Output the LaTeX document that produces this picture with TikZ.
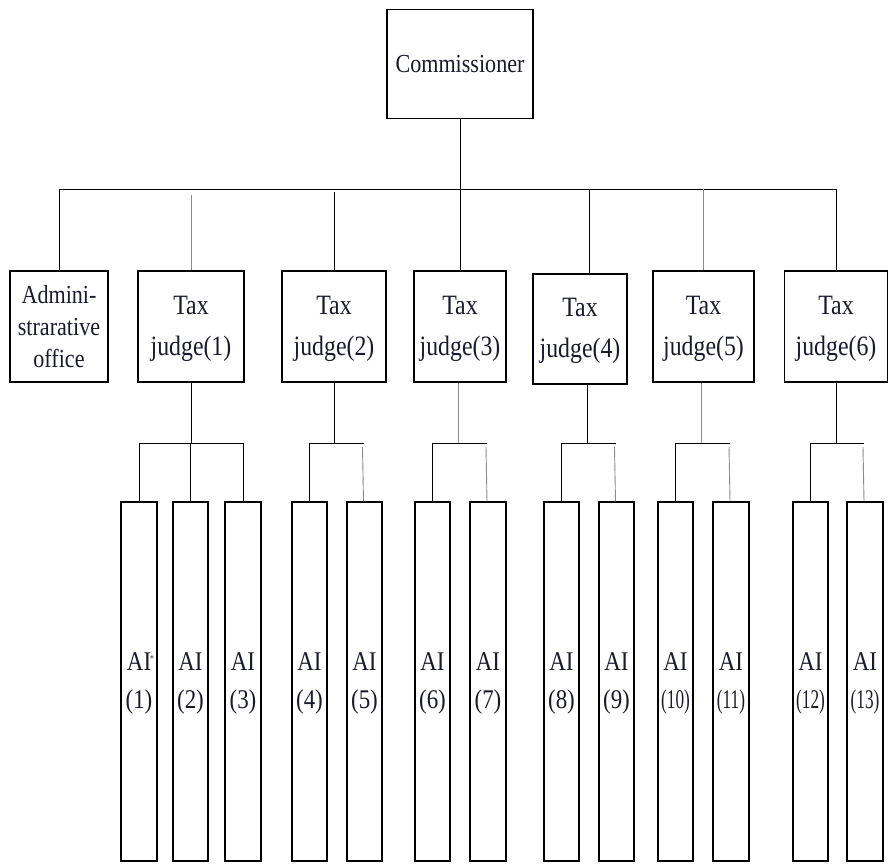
\documentclass[tikz,border=0pt]{standalone}
\usepackage{fontspec}
\setmainfont{Liberation Serif}[FakeStretch=0.85]
\definecolor{txt}{RGB}{25,25,45}
\newcommand\judgetext[1]{\raisebox{-4pt}{\begin{tabular}{@{}c@{}}Tax\\judge(#1)\end{tabular}}}
\newcommand\aitext[2]{\raisebox{-3pt}{\begin{tabular}{@{}c@{}}AI#1\\#2\end{tabular}}}
\begin{document}
\begin{tikzpicture}[x=1pt,y=-1pt,
  box/.style={draw, line width=1.1pt, inner sep=0pt, text=txt, align=center},
  topbox/.style={box, font=\fontsize{26}{32}\selectfont},
  judgebox/.style={box, minimum height=111pt, font=\fontsize{28}{41}\selectfont},
  aibox/.style={box, minimum height=359pt, font=\fontsize{27}{38}\selectfont},
  link/.style={line width=0.9pt, black},
  faint/.style={line width=0.9pt, black!45}]
\useasboundingbox (0,0) rectangle (888,864);

% top
\node[topbox, minimum width=146pt, minimum height=109pt] (comm) at (460,64) {Commissioner};

% second row
\node[box, minimum width=98pt, minimum height=111pt, font=\fontsize{26}{32}\selectfont] (admin) at (59,326.5) {Admini-\\strarative\\office};
\node[judgebox, minimum width=106pt] (j1) at (191,326.5) {\judgetext{1}};
\node[judgebox, minimum width=104pt] (j2) at (334,326.5) {\judgetext{2}};
\node[judgebox, minimum width=92pt]  (j3) at (460,326.5) {\judgetext{3}};
\node[judgebox, minimum width=94pt, minimum height=110pt] (j4) at (580,329) {\judgetext{4}};
\node[judgebox, minimum width=101pt] (j5) at (703.5,326.5) {\judgetext{5}};
\node[judgebox, minimum width=103pt] (j6) at (836,326.5) {\judgetext{6}};

% AI boxes
\node[aibox, minimum width=36pt] (a1)  at (139,681.5)   {\aitext{\kern-1pt\raisebox{9pt}{\fontsize{9}{9}\selectfont *}\kern-3pt}{(1)}};
\node[aibox, minimum width=35pt] (a2)  at (190.5,681.5) {\aitext{}{(2)}};
\node[aibox, minimum width=36pt] (a3)  at (243,681.5)   {\aitext{}{(3)}};
\node[aibox, minimum width=35pt] (a4)  at (309.5,681.5) {\aitext{}{(4)}};
\node[aibox, minimum width=35pt] (a5)  at (364.5,681.5) {\aitext{}{(5)}};
\node[aibox, minimum width=35pt] (a6)  at (432.5,681.5) {\aitext{}{(6)}};
\node[aibox, minimum width=36pt] (a7)  at (488,681.5)   {\aitext{}{(7)}};
\node[aibox, minimum width=35pt] (a8)  at (561.5,681.5) {\aitext{}{(8)}};
\node[aibox, minimum width=35pt] (a9)  at (616.5,681.5) {\aitext{}{(9)}};
\node[aibox, minimum width=35pt] (a10) at (675.5,681.5) {\aitext{}{\scalebox{0.75}[1]{(10)}}};
\node[aibox, minimum width=36pt] (a11) at (731,681.5)   {\aitext{}{\scalebox{0.75}[1]{(11)}}};
\node[aibox, minimum width=35pt] (a12) at (810.5,681.5) {\aitext{}{\scalebox{0.75}[1]{(12)}}};
\node[aibox, minimum width=36pt] (a13) at (865,681.5)   {\aitext{}{\scalebox{0.75}[1]{(13)}}};

% main bus
\coordinate (bus) at (0,189);
\coordinate (sub) at (0,443);
\draw[link] (comm.south) -- (comm.south |- bus);
\draw[link] (admin.north) -- (admin.north |- bus) -- (j6.north |- bus) -- (j6.north);
\draw[faint] (j1.north) -- ([yshift=-6pt]j1.north |- bus);
\draw[link] (j2.north) -- ([yshift=-3pt]j2.north |- bus);
\draw[link] (j3.north) -- (j3.north |- bus);
\draw[link] ([xshift=9pt]j4.north) -- ([xshift=9pt]j4.north |- bus);
\draw[faint] (j5.north) -- (j5.north |- bus);

% judge 1 group
\draw[link] (j1.south) -- (j1.south |- sub);
\draw[link] (a1.north) -- (a1.north |- sub) -- (a3.north |- sub) -- (a3.north);
\draw[link] (a2.north) -- (a2.north |- sub);
% judge 2 group
\draw[link] (j2.south) -- (j2.south |- sub);
\draw[link] (a4.north) -- (a4.north |- sub) -- ([xshift=-1pt]a5.north |- sub);
\draw[faint] ([xshift=-2pt,yshift=-4pt]a5.north |- sub) -- ([xshift=-1pt]a5.north);
% judge 3 group
\draw[faint] ([xshift=-2pt]j3.south) -- ([xshift=-2pt]j3.south |- sub);
\draw[link] (a6.north) -- (a6.north |- sub) -- ([xshift=-1pt]a7.north |- sub);
\draw[faint] ([xshift=-2pt,yshift=-4pt]a7.north |- sub) -- ([xshift=-1pt]a7.north);
% judge 4 group
\draw[link] ([xshift=7pt]j4.south) -- ([xshift=7pt]j4.south |- sub);
\draw[link] (a8.north) -- (a8.north |- sub) -- ([xshift=-1pt]a9.north |- sub);
\draw[faint] ([xshift=-2pt,yshift=-4pt]a9.north |- sub) -- ([xshift=-1pt]a9.north);
% judge 5 group
\draw[faint] ([xshift=-2pt]j5.south) -- ([xshift=-2pt]j5.south |- sub);
\draw[link] (a10.north) -- (a10.north |- sub) -- ([xshift=-1pt]a11.north |- sub);
\draw[faint] ([xshift=-2pt,yshift=-4pt]a11.north |- sub) -- ([xshift=-1pt]a11.north);
% judge 6 group
\draw[link] (j6.south) -- (j6.south |- sub);
\draw[link] (a12.north) -- (a12.north |- sub) -- ([xshift=-1pt]a13.north |- sub);
\draw[faint] ([xshift=-2pt,yshift=-4pt]a13.north |- sub) -- ([xshift=-1pt]a13.north);
\end{tikzpicture}
\end{document}
